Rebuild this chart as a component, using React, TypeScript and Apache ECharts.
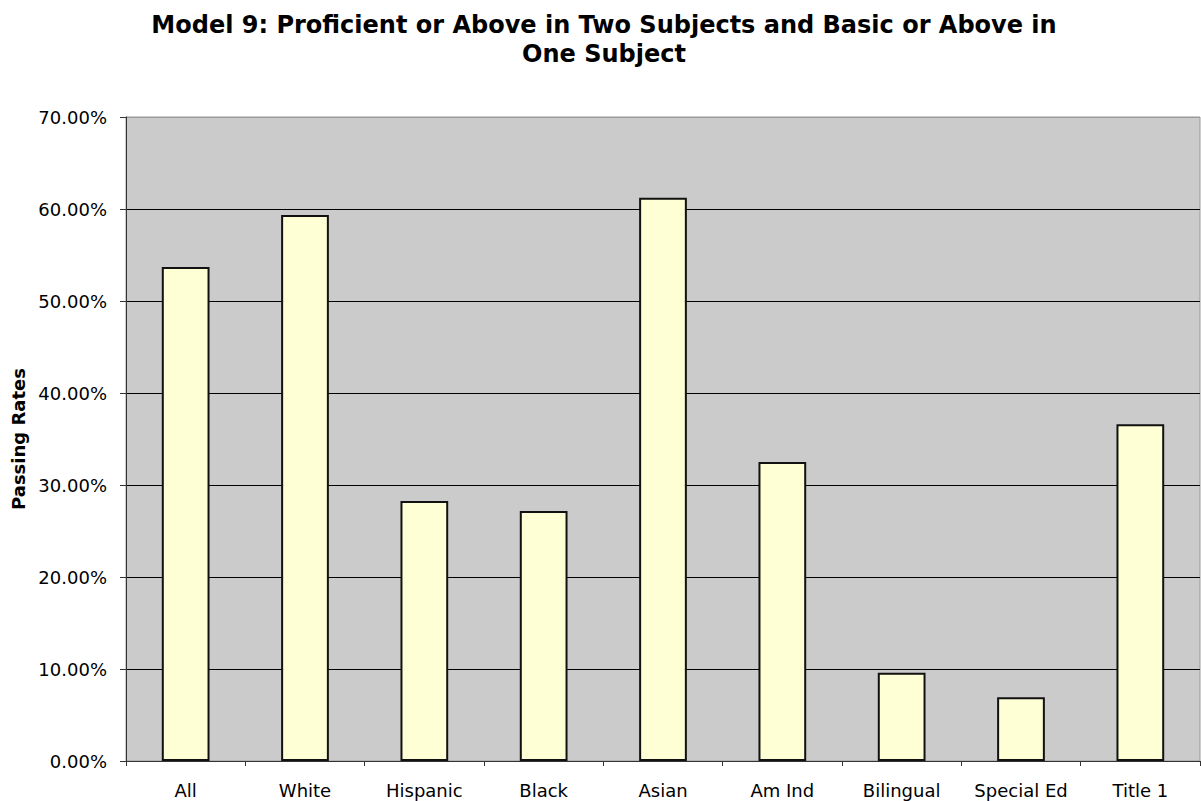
import React, { useEffect, useRef } from "react";
import * as echarts from "echarts";

const categories = ["All", "White", "Hispanic", "Black", "Asian", "Am Ind", "Bilingual", "Special Ed", "Title 1"];
const passingRates = [53.7, 59.35, 28.26, 27.17, 61.23, 32.5, 9.6, 6.92, 36.6];
const yTicks = [0, 10, 20, 30, 40, 50, 60, 70];
const titleText = "Model 9: Proficient or Above in Two Subjects and Basic or Above in\nOne Subject";
const yAxisName = "Passing Rates";

export default function App() {
  const ref = useRef<HTMLDivElement>(null);
  useEffect(() => {
    if (!ref.current) return;
    const chart = echarts.init(ref.current, null, { renderer: "svg" });
    const font = "'DejaVu Sans', Verdana, sans-serif";
    chart.setOption({
      animation: false,
      backgroundColor: "#ffffff",
      title: {
        text: titleText,
        left: 599,
        top: 5,
        textAlign: "center",
        textStyle: { fontFamily: font, fontSize: 24, fontWeight: "bold", color: "#000", lineHeight: 29 },
      },
      grid: {
        left: 126,
        top: 117,
        right: 1,
        bottom: 40,
        show: true,
        backgroundColor: "#cbcbcb",
        borderColor: "#999999",
        borderWidth: 1,
      },
      xAxis: {
        type: "category",
        data: categories,
        axisLine: { lineStyle: { color: "#333", width: 1 } },
        axisTick: { show: true, length: 5, interval: 0, alignWithLabel: false, lineStyle: { color: "#333" } },
        axisLabel: { fontFamily: font, fontSize: 18, color: "#000", margin: 20, interval: 0 },
      },
      yAxis: {
        type: "value",
        min: 0,
        max: 70,
        interval: 10,
        name: yAxisName,
        nameLocation: "middle",
        nameGap: 98,
        nameTextStyle: { fontFamily: font, fontSize: 18, fontWeight: "bold", color: "#000" },
        axisLine: { show: true, lineStyle: { color: "#333", width: 1 } },
        axisTick: { show: true, length: 6, lineStyle: { color: "#333" } },
        axisLabel: {
          fontFamily: font,
          fontSize: 18,
          color: "#000",
          margin: 19,
          formatter: (v: number) => v.toFixed(2) + "%",
        },
        splitLine: {
          show: true,
          lineStyle: { color: yTicks.map((t) => (t === 70 ? "#999999" : "#000000")), width: 1 },
        },
      },
      series: [
        {
          type: "bar",
          data: passingRates,
          barWidth: "40%",
          itemStyle: { color: "#ffffd5", borderColor: "#111", borderWidth: 2 },
        },
      ],
    });
    return () => chart.dispose();
  }, []);
  return <div ref={ref} style={{ position: "absolute", left: 0, top: 0, width: 1201, height: 801 }} />;
}
